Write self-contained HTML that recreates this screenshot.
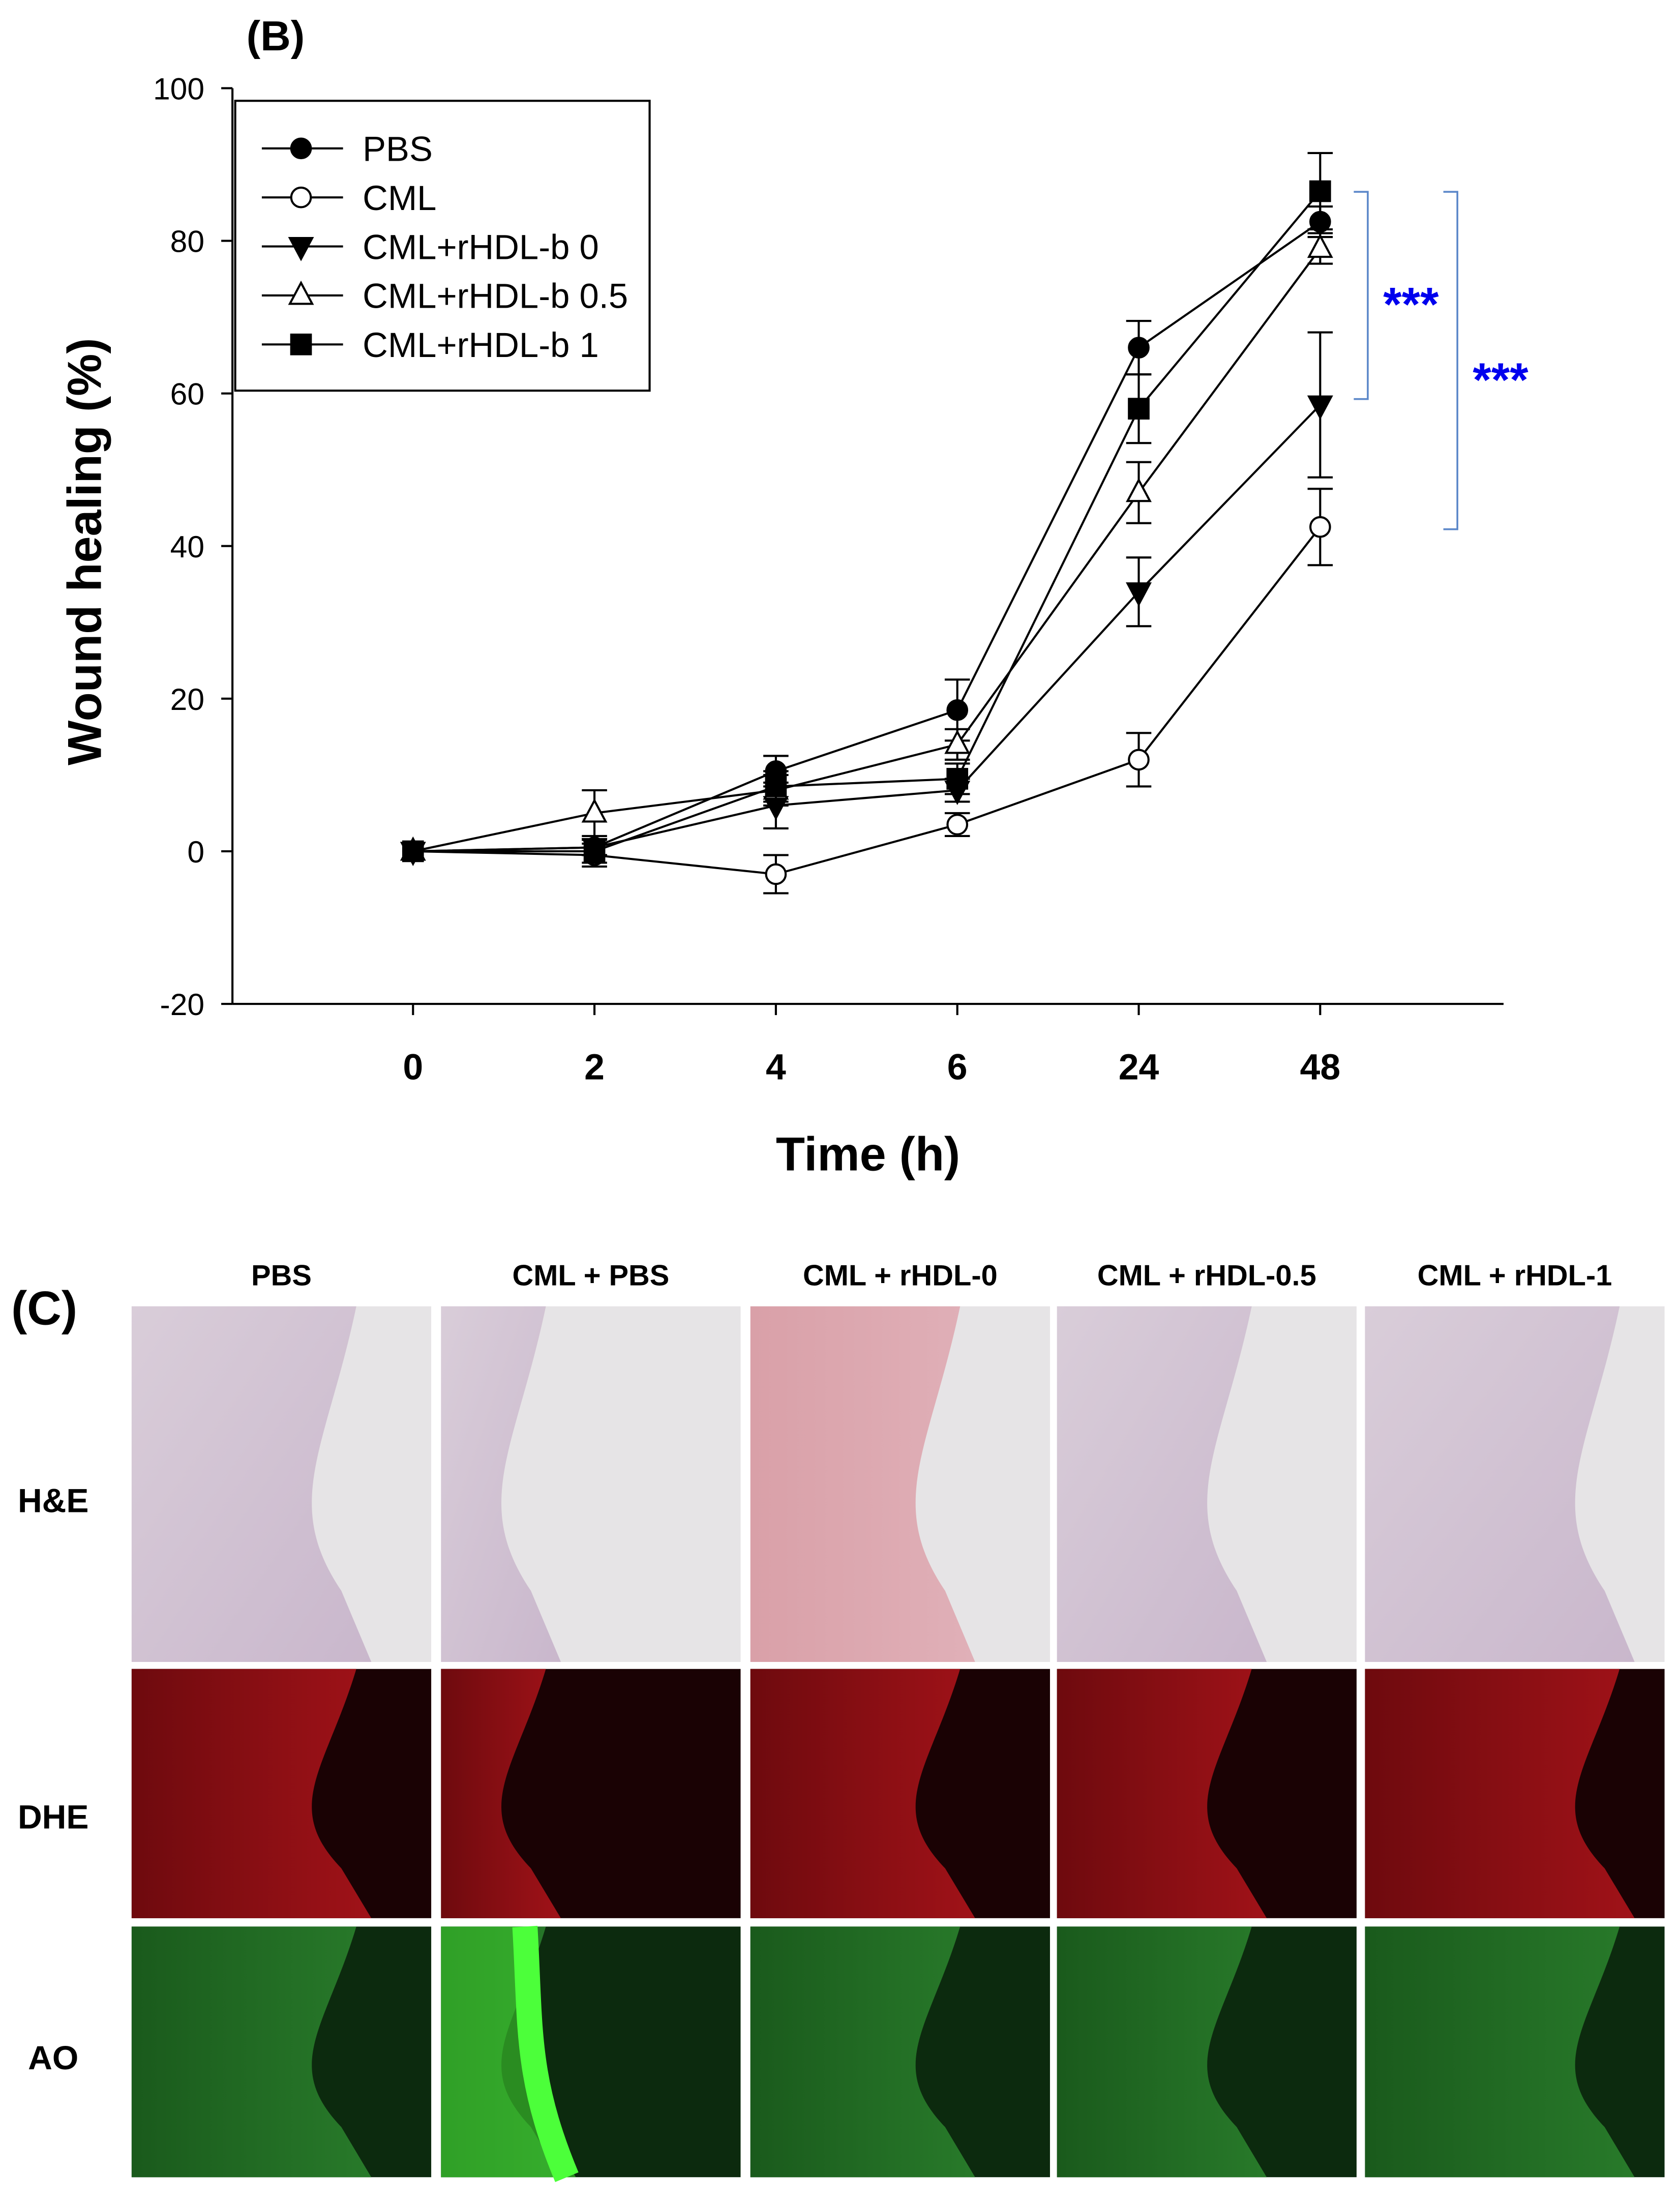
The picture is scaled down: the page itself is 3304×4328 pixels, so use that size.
<!DOCTYPE html>
<html><head><meta charset="utf-8"><style>
html,body{margin:0;padding:0;background:#fff}
svg{display:block}
text{font-family:"Liberation Sans",Arial,sans-serif}
</style></head><body>
<svg id="fig" width="3304" height="4328" viewBox="0 0 1200 1572" xmlns="http://www.w3.org/2000/svg">
<defs>
<linearGradient id="he" x1="0" y1="0" x2="1" y2="1"><stop offset="0" stop-color="#d9cdd9"/><stop offset="1" stop-color="#c9b7cc"/></linearGradient>
<linearGradient id="he2" x1="0" y1="0" x2="1" y2="0"><stop offset="0" stop-color="#d9a0a8"/><stop offset="1" stop-color="#e0b0b8"/></linearGradient>
<linearGradient id="dhe" x1="0" y1="0" x2="1" y2="0"><stop offset="0" stop-color="#6e0a0e"/><stop offset="1" stop-color="#a01218"/></linearGradient>
<linearGradient id="ao" x1="0" y1="0" x2="1" y2="0"><stop offset="0" stop-color="#1a5a1c"/><stop offset="1" stop-color="#287a2a"/></linearGradient>
</defs>
<text x="176" y="36" font-size="30" font-weight="bold">(B)</text>
<g id="chart"></g>
<g id="panelc"></g>
</svg>
<script>
const NS="http://www.w3.org/2000/svg";
const categories=["0","2","4","6","24","48"];
const seriesNames=["PBS","CML","CML+rHDL-b 0","CML+rHDL-b 0.5","CML+rHDL-b 1"];
const pbsVals=[0,0.5,10.5,18.5,66,82.5];
const pbsErr=[0,1,2,4,3.5,2];
const cmlVals=[0,-0.5,-3,3.5,12,42.5];
const cmlErr=[0,1.5,2.5,1.5,3.5,5];
const b0Vals=[0,0.5,6,8,34,58.5];
const b0Err=[0,1,3,1.5,4.5,9.5];
const b05Vals=[0,5,8,14,47,79];
const b05Err=[0,3,2,2,4,2];
const b1Vals=[0,0,8.5,9.5,58,86.5];
const b1Err=[0,1.5,2,2,4.5,5];
const yTicks=[-20,0,20,40,60,80,100];
const seriesVals=[pbsVals,cmlVals,b0Vals,b05Vals,b1Vals];
const seriesErrs=[pbsErr,cmlErr,b0Err,b05Err,b1Err];
const markers=["fcircle","ocircle","ftri-down","otri-up","fsquare"];

const X0=295,DX=129.6,Y0=608,PPU=109/20;
const xs=i=>X0+i*DX, ys=v=>Y0-v*PPU;
const chart=document.getElementById('chart');
function el(tag,attrs,parent){const e=document.createElementNS(NS,tag);for(const k in attrs)e.setAttribute(k,attrs[k]);(parent||chart).appendChild(e);return e;}
let a=el('line',{x1:166,y1:ys(100),x2:166,y2:ys(-20),stroke:'#000','stroke-width':1.5});

a=el('line',{x1:166,y1:ys(-20),x2:1074,y2:ys(-20),stroke:'#000','stroke-width':1.5});

yTicks.forEach(t=>{
  el('line',{x1:158,y1:ys(t),x2:166,y2:ys(t),stroke:'#000','stroke-width':1.5});
  const tx=el('text',{x:146,y:ys(t)+8,'font-size':22,'text-anchor':'end'});tx.textContent=t;
  
});
categories.forEach((c,i)=>{
  el('line',{x1:xs(i),y1:ys(-20),x2:xs(i),y2:ys(-20)+8,stroke:'#000','stroke-width':1.5});
  const tx=el('text',{x:xs(i),y:771,'font-size':26,'font-weight':'bold','text-anchor':'middle'});tx.textContent=c;
  
});
let t=el('text',{x:620,y:836,'font-size':34,'font-weight':'bold','text-anchor':'middle'});t.textContent='Time (h)';

t=el('text',{x:0,y:0,'font-size':34,'font-weight':'bold','text-anchor':'middle',transform:'translate(72,394) rotate(-90)'});t.textContent='Wound healing (%)';


function marker(type,x,y,g,r){
  r=r||7;let m;
  const fill=type[0]=='f'?'#000':'#fff';
  if(type.includes('circle'))m=el('circle',{cx:x,cy:y,r:r,fill:fill,stroke:'#000','stroke-width':1.5},g);
  else if(type.includes('square'))m=el('rect',{x:x-r,y:y-r,width:2*r,height:2*r,fill:fill,stroke:'#000','stroke-width':1.5},g);
  else if(type.includes('down'))m=el('polygon',{points:`${x-r-1},${y-r+1} ${x+r+1},${y-r+1} ${x},${y+r+2}`,fill:fill,stroke:'#000','stroke-width':1.5},g);
  else m=el('polygon',{points:`${x-r-1},${y+r-1} ${x+r+1},${y+r-1} ${x},${y-r-2}`,fill:fill,stroke:'#000','stroke-width':1.5},g);
  return m;
}
seriesVals.forEach((vals,s)=>{
  const g=el('g',{});
  
  
  el('polyline',{points:vals.map((v,i)=>xs(i)+','+ys(v)).join(' '),fill:'none',stroke:'#000','stroke-width':1.5},g);
  vals.forEach((v,i)=>{
    const e=seriesErrs[s][i];
    if(e>0){
      el('line',{x1:xs(i),y1:ys(v-e),x2:xs(i),y2:ys(v+e),stroke:'#000','stroke-width':1.5},g);
      el('line',{x1:xs(i)-9,y1:ys(v+e),x2:xs(i)+9,y2:ys(v+e),stroke:'#000','stroke-width':1.5},g);
      el('line',{x1:xs(i)-9,y1:ys(v-e),x2:xs(i)+9,y2:ys(v-e),stroke:'#000','stroke-width':1.5},g);
    }
  });
  vals.forEach((v,i)=>{const m=marker(markers[s],xs(i),ys(v),g);
    });
});
const lg=el('g',{});

el('rect',{x:168,y:72,width:296,height:207,fill:'#fff',stroke:'#000','stroke-width':1.5},lg);
seriesNames.forEach((n,s)=>{
  const y=106+s*35;
  const g=el('g',{},lg);
  
  el('line',{x1:187,y1:y,x2:245,y2:y,stroke:'#000','stroke-width':1.5},g);
  marker(markers[s],215,y,g);
  const tx=el('text',{x:259,y:y+9,'font-size':25},g);tx.textContent=n;
});
function bracket(x,y1,y2,ty,name){
  const g=el('g',{});
  el('path',{d:`M${x-10},${y1} H${x} V${y2} H${x-10}`,fill:'none',stroke:'#5b87c9','stroke-width':1.3},g);
  const tx=el('text',{x:x+11,y:ty,'font-size':34,fill:'#0000ee','font-weight':'bold'},g);tx.textContent='***';
}
bracket(977,137,285,229,'significance-bracket-1');
bracket(1041,137,378,283,'significance-bracket-2');

const pc=document.getElementById('panelc');
function pel(tag,attrs,parent){return el(tag,attrs,parent||pc);}
let tc=pel('text',{x:8,y:946,'font-size':34,'font-weight':'bold'});tc.textContent='(C)';

const colX=[94,315,536,755,975],colW=214;
const colLabels=["PBS","CML + PBS","CML + rHDL-0","CML + rHDL-0.5","CML + rHDL-1"];
const rows=[{n:'H&E',y:933,h:254,ly:1080},{n:'DHE',y:1192,h:178,ly:1306},{n:'AO',y:1376,h:179,ly:1478}];
colLabels.forEach((l,i)=>{const tx=pel('text',{x:colX[i]+colW/2,y:918,'font-size':21,'font-weight':'bold','text-anchor':'middle'});tx.textContent=l;
  });
rows.forEach((r,ri)=>{
  const tx=pel('text',{x:38,y:r.ly,'font-size':24,'font-weight':'bold','text-anchor':'middle'});tx.textContent=r.n;
  
  colX.forEach((x,ci)=>{
    const g=pel('g',{});
    const bg=ri==0?'#e6e4e6':(ri==1?'#1a0204':'#0c2a0e');
    const fg=ri==0?(ci==2?'url(#he2)':'url(#he)'):(ri==1?'url(#dhe)':'url(#ao)');
    pel('rect',{x:x,y:r.y,width:colW,height:r.h,fill:bg},g);
    const ex=[0.75,0.35,0.7,0.65,0.85][ci];
    const w=colW,h=r.h;
    pel('path',{d:`M${x},${r.y} H${x+w*ex} C${x+w*(ex-0.1)},${r.y+h*0.4} ${x+w*(ex-0.25)},${r.y+h*0.55} ${x+w*(ex-0.05)},${r.y+h*0.8} L${x+w*(ex+0.05)},${r.y+h} H${x} Z`,fill:fg},g);
    if(ci==1&&ri==2){
      pel('path',{d:`M${x},${r.y} H${x+w*0.3} C${x+w*0.25},${r.y+h*0.4} ${x+w*0.25},${r.y+h*0.6} ${x+w*0.45},${r.y+h} H${x} Z`,fill:'#3fcf2e',opacity:0.6},g);
      pel('path',{d:`M${x+w*0.28},${r.y} C${x+w*0.3},${r.y+h*0.4} ${x+w*0.28},${r.y+h*0.6} ${x+w*0.42},${r.y+h}`,fill:'none',stroke:'#4cff3a','stroke-width':18},g);
    }
  });
});
</script>
</body></html>
